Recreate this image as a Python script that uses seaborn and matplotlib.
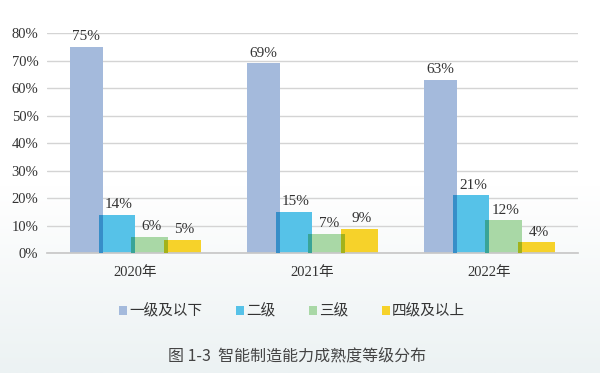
import numpy as np
import pandas as pd
import matplotlib
matplotlib.use('Agg')
import matplotlib.pyplot as plt
import matplotlib.colors as mcolors
from matplotlib.patches import Rectangle
import seaborn as sns

# === Data ===
years = ['2020年', '2021年', '2022年']
levels = ['一级及以下', '二级', '三级', '四级及以上']
level1 = [75, 69, 63]
level2 = [14, 15, 21]
level3 = [6, 7, 12]
level4 = [5, 9, 4]
colors = ['#a4badc', '#56c2e8', '#a9d8a6', '#f6d22a']

df = pd.DataFrame({
    'year': years * 4,
    'level': np.repeat(levels, 3),
    'value': level1 + level2 + level3 + level4,
})

# === Style ===
sns.set_theme(style='white')
serif = ['Liberation Serif', 'Noto Sans CJK SC']
cjk = ['Noto Sans CJK SC', 'DejaVu Sans']
plt.rcParams['font.family'] = serif

fig = plt.figure(figsize=(6, 3.73), dpi=100)

# soft background gradient (white top, pale blue-grey bottom)
bg = fig.add_axes([0, 0, 1, 1], zorder=-10)
grad = np.linspace(0, 1, 256)[:, None]
cmap = mcolors.LinearSegmentedColormap.from_list('bg', ['#ffffff', '#ffffff', '#ecf2f3'])
bg.imshow(grad, aspect='auto', cmap=cmap, extent=[0, 1, 0, 1], origin='upper')
bg.axis('off')

ax = fig.add_axes([0.078, 0.321, 0.885, 0.59])
ax.patch.set_alpha(0)

sns.barplot(data=df, x='year', y='value', hue='level', hue_order=levels,
            palette=colors, width=0.74, saturation=1, ax=ax, legend=False,
            zorder=2)

# widen the later bars a bit so they overlap their neighbour, like the original
overlap = 0.022
bars = [p for p in ax.patches]
n = len(years)
for i, p in enumerate(bars):
    if i >= n:
        p.set_x(p.get_x() - overlap)
        p.set_width(p.get_width() + overlap)
    p.set_edgecolor('none')

# darker strip where bars overlap (colour multiply)
for k in range(1, len(levels)):
    for j in range(n):
        prev = bars[(k - 1) * n + j]
        cur = bars[k * n + j]
        c1 = np.array(mcolors.to_rgb(prev.get_facecolor()))
        c2 = np.array(mcolors.to_rgb(cur.get_facecolor()))
        x0 = cur.get_x()
        w = prev.get_x() + prev.get_width() - x0
        h = min(prev.get_height(), cur.get_height())
        ax.add_patch(Rectangle((x0, 0), w, h, facecolor=c1 * c2,
                               edgecolor='none', zorder=3))

# value labels
for i, p in enumerate(bars):
    val = df['value'].iloc[i]
    ax.text(p.get_x() + p.get_width() / 2 + (overlap / 2 if i >= n else 0),
            p.get_height() + 1.3, f'{val}%', ha='center', va='bottom',
            fontsize=11, color='#333333', family=serif, zorder=5)

ax.set_ylim(0, 80)
ax.set_xlim(-0.5, 2.5)
ax.set_yticks(range(0, 81, 10))
ax.set_yticklabels([f'{v}%' for v in range(0, 81, 10)], family=serif)
ax.yaxis.grid(True, color='#d4d4d4', linewidth=1, zorder=0)
ax.set_axisbelow(True)
for s in ['top', 'right', 'left']:
    ax.spines[s].set_visible(False)
ax.spines['bottom'].set_color('#c8c8c8')
ax.tick_params(axis='both', length=0, labelsize=10.5, colors='#333333')
ax.tick_params(axis='x', pad=9)
ax.tick_params(axis='y', pad=6)
for lab in ax.get_xticklabels():
    lab.set_family(serif)
ax.set_xlabel('')
ax.set_ylabel('')

# legend
handles = [Rectangle((0, 0), 1, 1, facecolor=c, edgecolor='none') for c in colors]
fig.legend(handles, levels, loc='center', bbox_to_anchor=(0.487, 0.166), ncol=4,
           frameon=False, handlelength=0.55, handleheight=0.6, handletextpad=0.15,
           columnspacing=2.3, prop={'family': cjk, 'size': 10.5},
           labelcolor='#333333')

fig.text(0.495, 0.045, '图 1-3  智能制造能力成熟度等级分布', ha='center', va='center',
         fontsize=11.5, color='#444444', family=cjk)

fig.savefig('out.png', dpi=100)
